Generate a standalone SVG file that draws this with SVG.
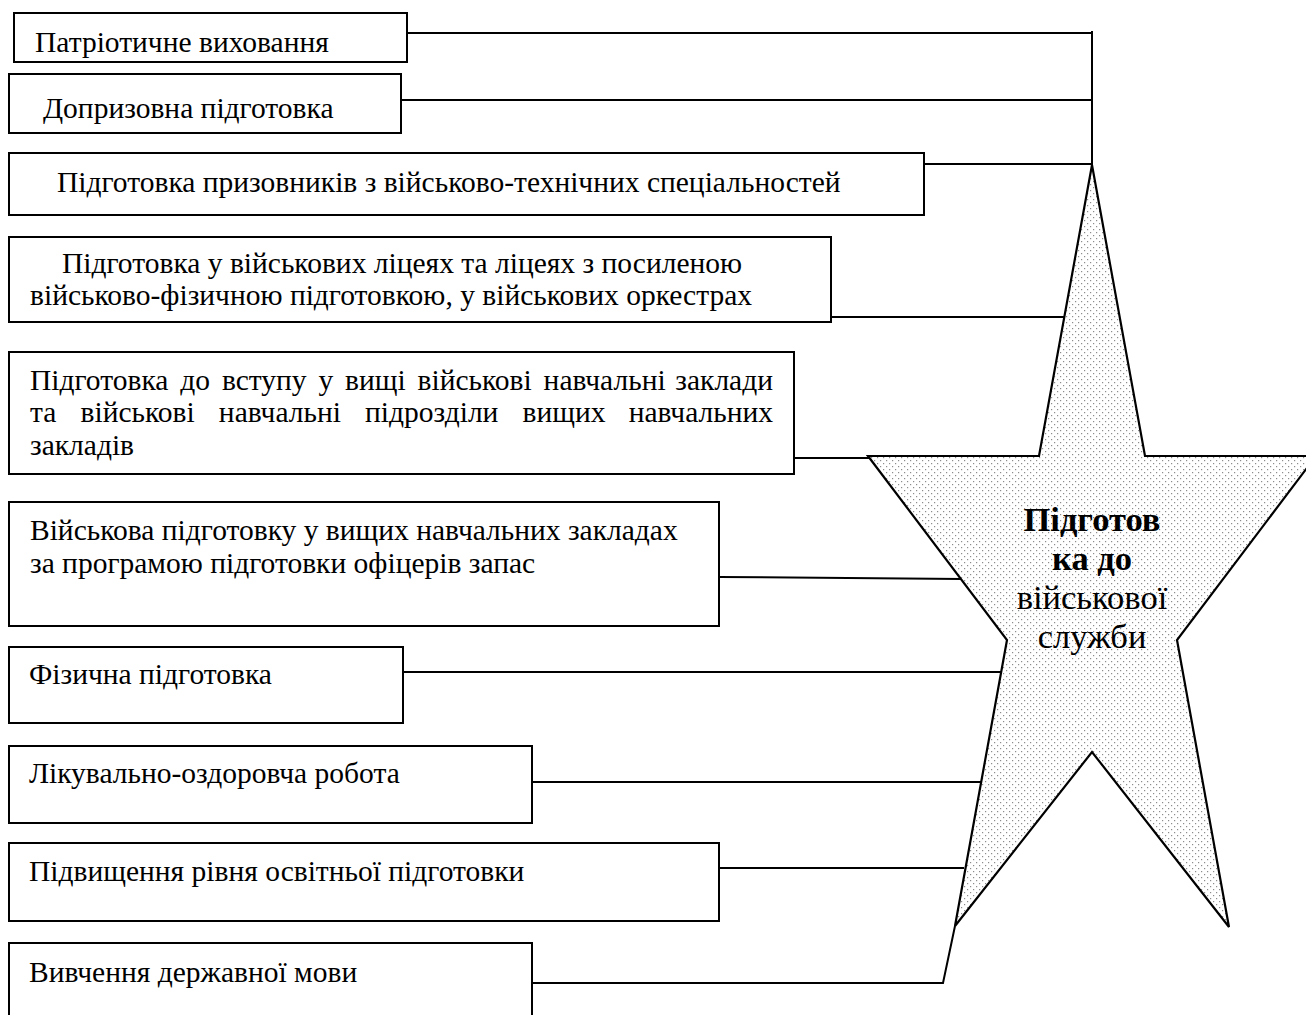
<svg xmlns="http://www.w3.org/2000/svg" width="1306" height="1015" viewBox="0 0 1306 1015">
<defs>
<pattern id="dots" width="6" height="6" patternUnits="userSpaceOnUse">
<rect x="0" y="0" width="6" height="6" fill="#ffffff"/>
<rect x="1" y="1" width="1.2" height="1.2" fill="#8c8c8c"/>
<rect x="4" y="4" width="1.2" height="1.2" fill="#8c8c8c"/>
</pattern>
</defs>
<style>
.box{fill:#ffffff;stroke:#000000;stroke-width:2}
.t{font-family:"Liberation Serif","Times New Roman",serif;font-size:29.5px;fill:#000000}
.c{fill:none;stroke:#000000;stroke-width:2}
.st{fill:url(#dots);stroke:#000000;stroke-width:2.2;stroke-linejoin:miter}
.sb{font-family:"Liberation Serif","Times New Roman",serif;font-size:34.5px;font-weight:bold;fill:#000000;text-anchor:middle}
.sr{font-family:"Liberation Serif","Times New Roman",serif;font-size:34.5px;fill:#000000;text-anchor:middle}
</style>
<rect width="1306" height="1015" fill="#ffffff"/>
<g id="connectors">
<polyline class="c" points="407,33 1092,33"/>
<polyline class="c" points="1092,31 1092,166"/>
<polyline class="c" points="401,100 1091,100"/>
<polyline class="c" points="924,164 1092,164"/>
<polyline class="c" points="831,317 1065,317"/>
<polyline class="c" points="794,458 869,458"/>
<polyline class="c" points="719,577 962,579"/>
<polyline class="c" points="403,672 1001,672"/>
<polyline class="c" points="532,782 982,782"/>
<polyline class="c" points="719,868 964,868"/>
<polyline class="c" points="532,983 943,983 955,926"/>
</g>
<g id="star">
<polygon class="st" points="1092,165 1145,456 1316,456 1177,640 1229,927 1092,752 955,926 1007,640 868,456 1039,456"/>
<text class="sb" x="1092" y="531">Підготов</text>
<text class="sb" x="1092" y="570">ка до</text>
<text class="sr" x="1092" y="609">військової</text>
<text class="sr" x="1092" y="648">служби</text>
</g>
<g id="n1"><rect class="box" x="14" y="13" width="393" height="49"/><text class="t" x="35" y="52">Патріотичне виховання</text></g>
<g id="n2"><rect class="box" x="9" y="74" width="392" height="59"/><text class="t" x="43" y="118">Допризовна підготовка</text></g>
<g id="n3"><rect class="box" x="9" y="153" width="915" height="62"/><text class="t" x="57" y="192">Підготовка призовників з військово-технічних спеціальностей</text></g>
<g id="n4"><rect class="box" x="9" y="237" width="822" height="85"/><text class="t" x="62" y="273">Підготовка у військових ліцеях та ліцеях з посиленою</text><text class="t" x="30" y="305">військово-фізичною підготовкою, у військових оркестрах</text></g>
<g id="n5"><rect class="box" x="9" y="352" width="785" height="122"/>
<text class="t" x="30" y="390" word-spacing="4.5">Підготовка до вступу у вищі військові навчальні</text>
<text class="t" x="773" y="390" text-anchor="end">заклади</text>
<text class="t" x="30" y="422" word-spacing="16.8">та військові навчальні підрозділи вищих</text>
<text class="t" x="773" y="422" text-anchor="end">навчальних</text>
<text class="t" x="30" y="455">закладів</text></g>
<g id="n6"><rect class="box" x="9" y="502" width="710" height="124"/><text class="t" x="30" y="540">Військова підготовку у вищих навчальних закладах</text><text class="t" x="30" y="573">за програмою підготовки офіцерів запас</text></g>
<g id="n7"><rect class="box" x="9" y="647" width="394" height="76"/><text class="t" x="29" y="684">Фізична підготовка</text></g>
<g id="n8"><rect class="box" x="9" y="746" width="523" height="77"/><text class="t" x="29" y="783">Лікувально-оздоровча робота</text></g>
<g id="n9"><rect class="box" x="9" y="843" width="710" height="78"/><text class="t" x="29" y="881">Підвищення рівня освітньої підготовки</text></g>
<g id="n10"><rect class="box" x="9" y="943" width="523" height="90"/><text class="t" x="29" y="982">Вивчення державної мови</text></g>
</svg>
